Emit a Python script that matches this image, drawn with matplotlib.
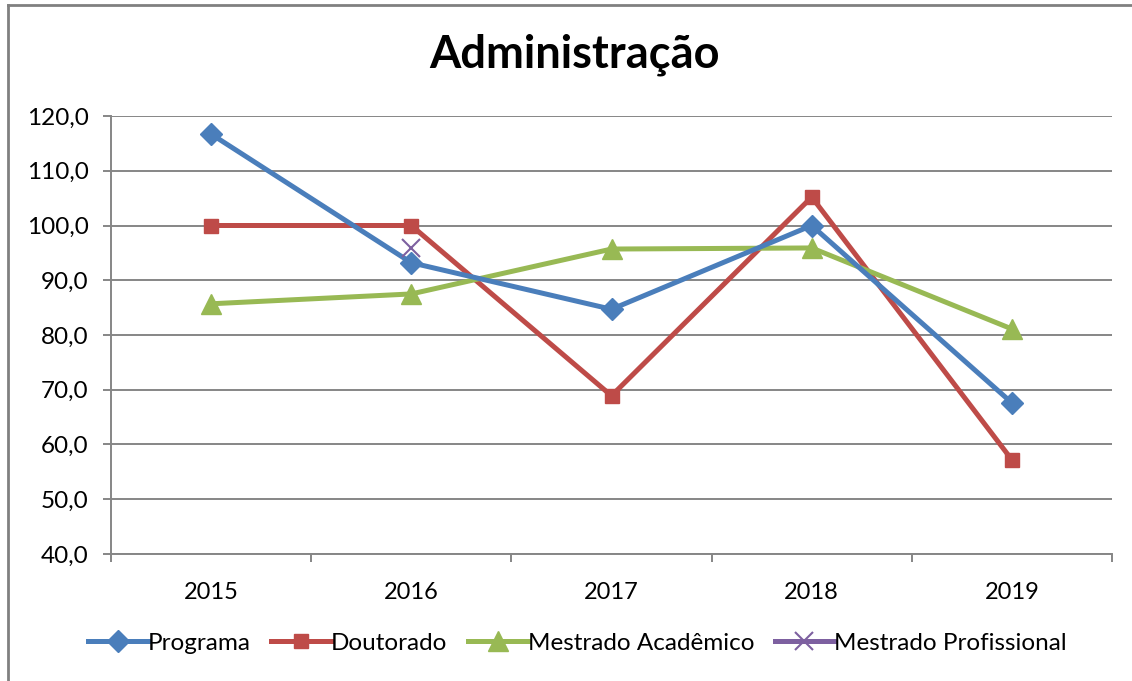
import matplotlib
matplotlib.use("Agg")
import matplotlib.pyplot as plt
from matplotlib.lines import Line2D
import numpy as np

years = ["2015", "2016", "2017", "2018", "2019"]
programa = [116.7, 93.2, 84.7, 100.0, 67.6]
doutorado = [100.0, 100.0, 68.9, 105.2, 57.2]
mestrado_acad = [85.7, 87.5, 95.7, 95.9, 81.1]
mestrado_prof = [np.nan, 95.9, np.nan, np.nan, np.nan]
yticks = [40, 50, 60, 70, 80, 90, 100, 110, 120]

plt.rcParams['font.family'] = ['Lato', 'DejaVu Sans']

fig = plt.figure(figsize=(11.32, 6.81), dpi=100)
ax = fig.add_axes([111/1132, 1-554/681, (1112-111)/1132, (554-116)/681])

x = np.arange(len(years))
gridc = "#868686"
fs = 17.5
ax.set_ylim(40, 120)
ax.set_xlim(-0.5, len(years)-0.5)
ax.set_yticks(yticks)
ax.set_yticklabels([f"{v:.1f}".replace(".", ",") for v in yticks], fontsize=fs)
ax.yaxis.grid(True, color=gridc, linewidth=1.4)
ax.set_axisbelow(True)
ax.set_xticks(np.arange(-0.5, len(years)), minor=False)
ax.set_xticklabels([])
ax.set_xticks(x, minor=True)
ax.set_xticklabels(years, minor=True, fontsize=17)
ax.tick_params(axis='x', which='minor', length=0, pad=20)
ax.tick_params(axis='x', which='major', length=6, width=1.4, color=gridc)
ax.tick_params(axis='y', length=6, width=1.4, color=gridc, pad=10)
for s in ['top', 'right']:
    ax.spines[s].set_visible(False)
for s in ['left', 'bottom']:
    ax.spines[s].set_color(gridc)
    ax.spines[s].set_linewidth(1.4)

lw = 3.6
ax.plot(x, programa, color="#4A7EBB", lw=lw, marker="D", ms=11, label="Programa", zorder=4)
ax.plot(x, doutorado, color="#BE4B48", lw=lw, marker="s", ms=10.5, label="Doutorado", zorder=3)
ax.plot(x, mestrado_acad, color="#98B954", lw=lw, marker="^", ms=14, label="Mestrado Acadêmico", zorder=3)
ax.plot(x, mestrado_prof, color="#7D60A0", lw=lw, marker="x", ms=13, mew=1.5, label="Mestrado Profissional", zorder=5)

fig.text(575/1132, 1-55/681, "Administração", ha="center", va="center", fontsize=32.5, fontweight="bold")

leg = ax.legend(loc="center", bbox_to_anchor=(0.5 - 34/1001, (554-643)/438), ncol=4, frameon=False,
                fontsize=fs, handlelength=2.45, handletextpad=0.0, columnspacing=0.85)

fig.add_artist(Line2D([8/1132, 8/1132], [0, 1-5/681], color="#808080", lw=2))
fig.add_artist(Line2D([8/1132, 1.0], [1-5/681, 1-5/681], color="#808080", lw=2))

fig.savefig("out.png", dpi=100)
